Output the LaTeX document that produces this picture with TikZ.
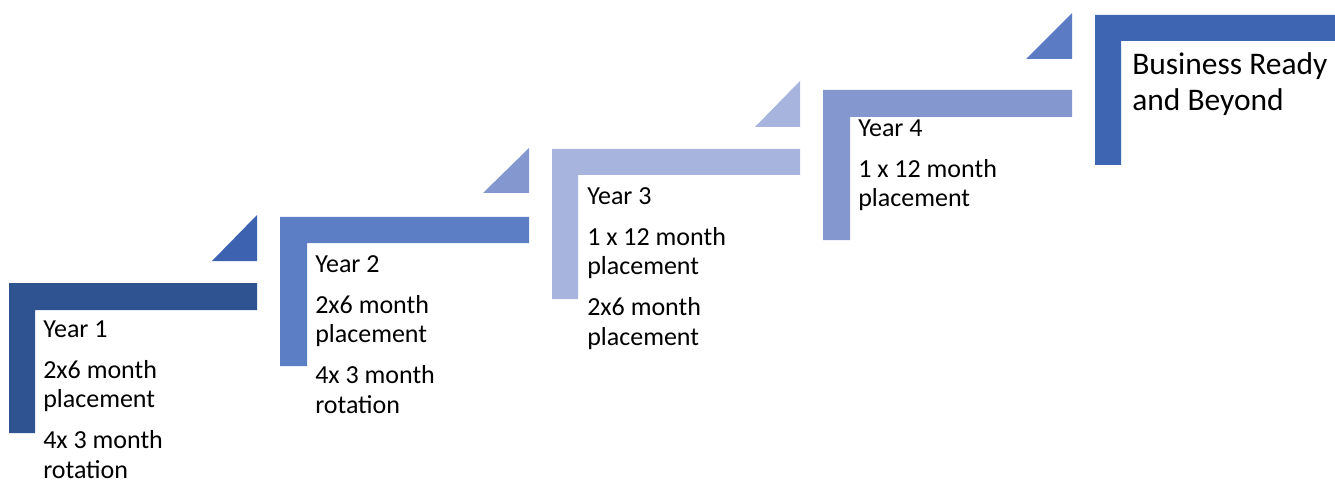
\documentclass[tikz,border=0pt]{standalone}
\usepackage{fontspec}
\setmainfont{Carlito}
\definecolor{cA}{HTML}{2F5291}
\definecolor{tA}{HTML}{3D63B0}
\definecolor{cB}{HTML}{5B7EC4}
\definecolor{tB}{HTML}{8497CF}
\definecolor{cC}{HTML}{A7B5DE}
\definecolor{tC}{HTML}{A7B5DE}
\definecolor{cD}{HTML}{8498CF}
\definecolor{tD}{HTML}{5B7CC4}
\definecolor{cE}{HTML}{3D65B2}
\tikzset{
  steptext/.style={anchor=base west, align=left, inner sep=0pt, text=black,
    font={\fontsize{19.5pt}{22.1pt}\selectfont}},
  bigtext/.style={anchor=base west, align=left, inner sep=0pt, text=black,
    font={\fontsize{23.6pt}{27pt}\selectfont}}
}
\newcommand{\Lshape}[7]{% color, left, top, right, barbottom, inner, bottom
  \fill[#1] (#2,#3) -- (#4,#3) -- (#4,#5) -- (#6,#5) -- (#6,#7) -- (#2,#7) -- cycle;}
\newcommand{\Tri}[5]{% color, apex x, bottom y, right x, top y
  \fill[#1] (#2,#3) -- (#4,#3) -- (#4,#5) -- cycle;}
\begin{document}
\begin{tikzpicture}[x=0.75pt,y=-0.75pt]
\useasboundingbox (0,0) rectangle (1335,481);
% step 1
\Lshape{cA}{9}{283}{257}{310}{35}{433}
\Tri{tA}{212}{261}{257}{215}
% step 2
\Lshape{cB}{280}{217}{529}{243}{307}{366}
\Tri{tB}{483}{193}{529}{148}
% step 3
\Lshape{cC}{552}{149}{800}{175}{578}{299}
\Tri{tC}{755}{127}{800}{81}
% step 4
\Lshape{cD}{823}{90}{1072}{117}{850}{240}
\Tri{tD}{1026}{59}{1072}{13}
% step 5
\Lshape{cE}{1095}{15}{1335}{41}{1121}{165}
% texts (anchored at the baseline of the last line)
\node[steptext] (y1) at (43,478) {Year 1\\[8.6pt]2x6 month\\placement\\[8.6pt]4x 3 month\\rotation};
\node[steptext] (y2) at (315,413) {Year 2\\[8.6pt]2x6 month\\placement\\[8.6pt]4x 3 month\\rotation};
\node[steptext] (y3) at (587,345) {Year 3\\[8.6pt]1 x 12 month\\placement\\[8.6pt]2x6 month\\placement};
\node[steptext] (y4) at (858,207) {Year 4\\[8.6pt]1 x 12 month\\placement};
\node[bigtext] (y5) at (1132,111) {Business Ready\\and Beyond};
\end{tikzpicture}
\end{document}
